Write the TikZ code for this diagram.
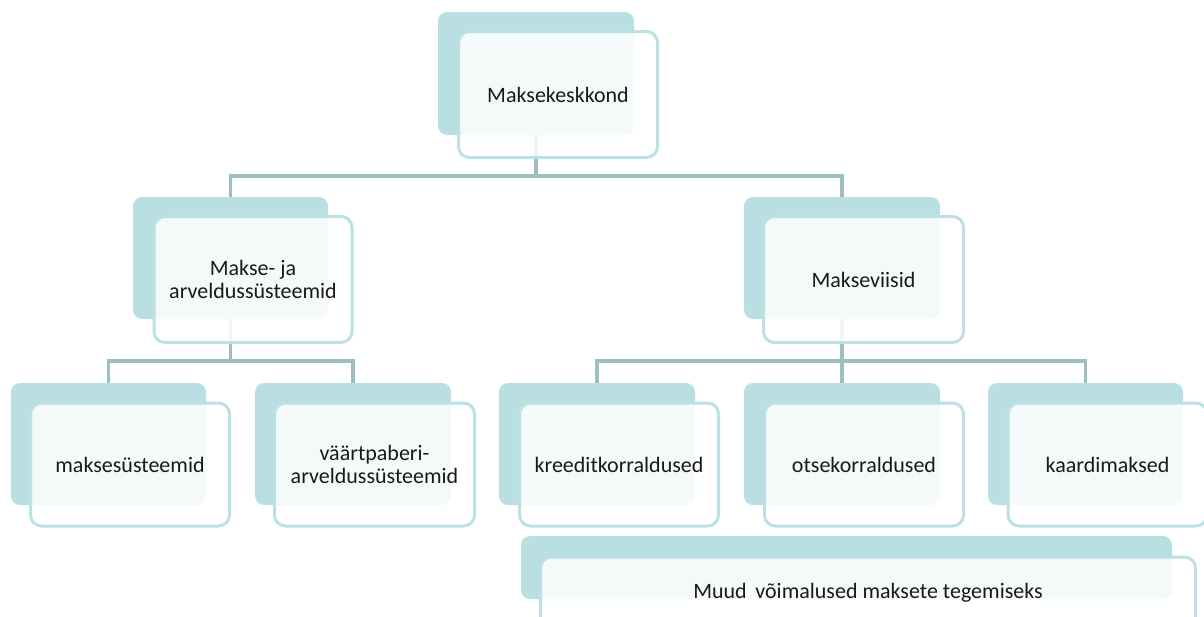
\documentclass[tikz,border=0pt]{standalone}
\usepackage{fontspec}
\setmainfont{Carlito}
\usetikzlibrary{backgrounds}
\definecolor{backteal}{RGB}{185,223,226}
\definecolor{frontline}{RGB}{188,224,227}
\definecolor{conn}{RGB}{158,190,192}
\definecolor{txt}{RGB}{25,25,25}
\begin{document}
\begin{tikzpicture}[x=1pt,y=-1pt,
  backbox/.style={draw=none,fill=backteal,rounded corners=9pt,inner sep=0pt},
  frontbox/.style={draw=frontline,line width=3pt,fill=white,fill opacity=0.85,text opacity=1,
     rounded corners=11pt,inner sep=0pt,align=center,text=txt,
     font=\fontsize{22}{23.5}\selectfont},
  connector/.style={draw=conn,line width=3.2pt}]
\useasboundingbox (0,0) rectangle (1204,616);
% back rectangles
\node[backbox,minimum width=196pt,minimum height=123pt] (topB) at (536,73.5) {};
\node[backbox,minimum width=195pt,minimum height=122pt] (lB) at (230.5,258) {};
\node[backbox,minimum width=196pt,minimum height=122pt] (rB) at (842,258) {};
\node[backbox,minimum width=195pt,minimum height=122pt] (aB) at (108.5,444) {};
\node[backbox,minimum width=196pt,minimum height=122pt] (bB) at (353,444) {};
\node[backbox,minimum width=196pt,minimum height=122pt] (cB) at (597,444) {};
\node[backbox,minimum width=196pt,minimum height=122pt] (dB) at (842,444) {};
\node[backbox,minimum width=195pt,minimum height=122pt] (eB) at (1085.5,444) {};
\node[backbox,minimum width=651pt,minimum height=63pt] (fB) at (846.5,567.5) {};
% front rectangles
\node[frontbox,minimum width=199pt,minimum height=126pt] (top) at (558,94.5) {Maksekeskkond};
\node[frontbox,minimum width=198pt,minimum height=126pt] (l) at (253,279.5) {Makse- ja\\arveldussüsteemid};
\node[frontbox,minimum width=200pt,minimum height=126pt] (r) at (863.5,279.5) {Makseviisid};
\node[frontbox,minimum width=199pt,minimum height=123pt] (a) at (130,464.5) {maksesüsteemid};
\node[frontbox,minimum width=200pt,minimum height=123pt] (b) at (374.5,464.5) {väärtpaberi-\\arveldussüsteemid};
\node[frontbox,minimum width=199pt,minimum height=123pt] (c) at (619,464.5) {kreeditkorraldused};
\node[frontbox,minimum width=199pt,minimum height=123pt] (d) at (864,464.5) {otsekorraldused};
\node[frontbox,minimum width=199pt,minimum height=123pt] (e) at (1107.5,464.5) {kaardimaksed};
\node[frontbox,minimum width=655pt,minimum height=72pt] (f) at (868,593) {\raisebox{5pt}{Muud\, võimalused maksete tegemiseks}};
% connectors
\coordinate (bus1) at (0,176);
\coordinate (bus2) at (0,361);
\begin{pgfonlayer}{background}
\draw[connector] (topB.south) -- (topB.south |- bus1) -| (lB.north);
\draw[connector] (topB.south |- bus1) -| (rB.north);
\draw[connector] (lB.south) -- (lB.south |- bus2) -| (aB.north);
\draw[connector] (lB.south |- bus2) -| (bB.north);
\draw[connector] (rB.south) -- (dB.north);
\draw[connector] (rB.south |- bus2) -| (cB.north);
\draw[connector] (rB.south |- bus2) -| (eB.north);
\end{pgfonlayer}
\end{tikzpicture}
\end{document}
